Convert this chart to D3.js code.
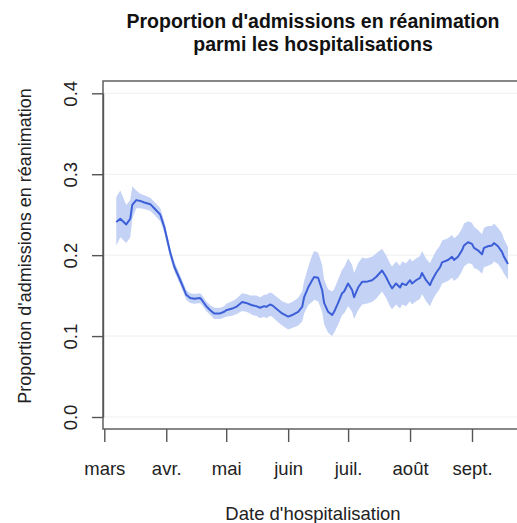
<!DOCTYPE html>
<html>
<head>
<meta charset="utf-8">
<script src="https://cdn.jsdelivr.net/npm/d3@7"></script>
<style>
  html, body { margin: 0; padding: 0; background: #fff; }
  svg { display: block; font-family: "Liberation Sans", Arial, Helvetica, sans-serif; }
</style>
</head>
<body>
<svg id="chart" width="517" height="523"></svg>
<script>
// Daily dates of the smoothed ICU-admission share
const dates = [
  "2020-03-07","2020-03-09","2020-03-12","2020-03-14","2020-03-15","2020-03-17","2020-03-19","2020-03-21",
  "2020-03-24","2020-03-26","2020-03-29","2020-03-31","2020-04-03","2020-04-05","2020-04-08","2020-04-10",
  "2020-04-11","2020-04-13","2020-04-15","2020-04-18","2020-04-19","2020-04-21","2020-04-23","2020-04-25",
  "2020-04-28","2020-04-30","2020-05-01","2020-05-04","2020-05-06","2020-05-09","2020-05-11","2020-05-13",
  "2020-05-14","2020-05-16","2020-05-18","2020-05-20","2020-05-21","2020-05-23","2020-05-24","2020-05-27",
  "2020-05-29","2020-06-01","2020-06-03","2020-06-06","2020-06-08","2020-06-09","2020-06-11","2020-06-13",
  "2020-06-14","2020-06-16","2020-06-18","2020-06-19","2020-06-21","2020-06-23","2020-06-24","2020-06-26",
  "2020-06-28","2020-06-29","2020-07-01","2020-07-03","2020-07-04","2020-07-06","2020-07-08","2020-07-10",
  "2020-07-13","2020-07-15","2020-07-18","2020-07-20","2020-07-22","2020-07-23","2020-07-25","2020-07-27",
  "2020-07-28","2020-07-30","2020-08-01","2020-08-02","2020-08-04","2020-08-06","2020-08-07","2020-08-09",
  "2020-08-11","2020-08-12","2020-08-14","2020-08-16","2020-08-17","2020-08-20","2020-08-22","2020-08-23",
  "2020-08-25","2020-08-27","2020-08-28","2020-08-30","2020-09-01","2020-09-02","2020-09-04","2020-09-06",
  "2020-09-07","2020-09-09","2020-09-11","2020-09-12","2020-09-14","2020-09-16","2020-09-17","2020-09-19"
];

// Estimated proportion
const proportion = [
  .241,.245,.238,.245,.262,.268,.267,.265,
  .263,.258,.250,.235,.203,.186,.169,.157,
  .151,.147,.146,.147,.144,.137,.132,.128,
  .128,.130,.132,.134,.136,.142,.141,.139,
  .138,.137,.135,.137,.136,.139,.138,.132,
  .128,.124,.126,.130,.136,.148,.160,.169,
  .173,.172,.157,.141,.130,.126,.130,.141,
  .153,.155,.165,.157,.148,.160,.167,.167,
  .169,.173,.181,.173,.163,.159,.165,.160,
  .165,.163,.169,.165,.169,.172,.178,.169,
  .163,.169,.178,.185,.191,.194,.198,.194,
  .198,.206,.212,.216,.214,.209,.206,.201,
  .209,.211,.212,.215,.211,.204,.198,.189
];

// Lower bound of the confidence band
const lower = [
  .212,.222,.215,.222,.245,.258,.258,.257,
  .255,.250,.242,.228,.197,.180,.163,.151,
  .145,.141,.140,.141,.138,.131,.126,.121,
  .121,.123,.124,.125,.127,.131,.130,.128,
  .126,.125,.122,.124,.122,.125,.124,.117,
  .113,.108,.110,.113,.118,.128,.138,.142,
  .145,.143,.130,.115,.104,.100,.104,.114,
  .126,.128,.137,.130,.121,.132,.139,.140,
  .142,.146,.155,.147,.137,.133,.139,.134,
  .139,.137,.143,.139,.143,.146,.152,.143,
  .137,.143,.152,.159,.165,.168,.172,.168,
  .172,.180,.186,.190,.189,.184,.182,.177,
  .185,.187,.189,.192,.189,.182,.177,.170
];

// Upper bound of the confidence band
const upper = [
  .272,.280,.262,.268,.285,.280,.276,.274,
  .271,.266,.258,.242,.209,.192,.175,.163,
  .157,.153,.152,.153,.150,.143,.138,.135,
  .135,.137,.140,.143,.146,.153,.152,.150,
  .150,.150,.148,.151,.151,.154,.153,.147,
  .143,.140,.142,.147,.155,.168,.185,.200,
  .205,.203,.188,.170,.158,.155,.158,.170,
  .182,.185,.196,.188,.178,.190,.197,.196,
  .198,.202,.208,.200,.190,.186,.192,.187,
  .192,.190,.196,.192,.196,.199,.205,.196,
  .190,.196,.205,.212,.218,.221,.225,.221,
  .225,.233,.239,.242,.240,.235,.231,.226,
  .234,.236,.236,.239,.234,.227,.220,.210
];

// Axis ticks
const yTicks = [0, 0.1, 0.2, 0.3, 0.4];
const monthStarts = ["2020-03-01","2020-04-01","2020-05-01","2020-06-01","2020-07-01","2020-08-01","2020-09-01"];
const monthLabels = ["mars","avr.","mai","juin","juil.","août","sept."];

const parse = d3.utcParse("%Y-%m-%d");
const rows = dates.map((d, i) => ({ date: parse(d), p: proportion[i], lo: lower[i], hi: upper[i] }));

const svg = d3.select("#chart");

// Plot region (right edge runs past the window)
const plot = { left: 103, right: 527, top: 81, bottom: 429 };

const x = d3.scaleUtc()
  .domain([parse("2020-03-01"), parse("2020-09-01")])
  .range([104.3, 472]);

const y = d3.scaleLinear()
  .domain([0, 0.4])
  .range([417, 93.3]);

// Light horizontal guides
svg.append("g")
  .selectAll("line")
  .data(yTicks)
  .join("line")
  .attr("x1", plot.left)
  .attr("x2", plot.right)
  .attr("y1", d => y(d))
  .attr("y2", d => y(d))
  .attr("stroke", "#efefef")
  .attr("stroke-width", 1);

// Confidence band
const band = d3.area()
  .x(d => x(d.date))
  .y0(d => y(d.lo))
  .y1(d => y(d.hi));

svg.append("path")
  .datum(rows)
  .attr("d", band)
  .attr("fill", "#c4d2f6");

// Central estimate
const line = d3.line()
  .x(d => x(d.date))
  .y(d => y(d.p));

svg.append("path")
  .datum(rows)
  .attr("d", line)
  .attr("fill", "none")
  .attr("stroke", "#3c5fd8")
  .attr("stroke-width", 2)
  .attr("stroke-linejoin", "round");

// Frame around the plot region
svg.append("rect")
  .attr("x", plot.left)
  .attr("y", plot.top)
  .attr("width", plot.right - plot.left)
  .attr("height", plot.bottom - plot.top)
  .attr("fill", "none")
  .attr("stroke", "#555")
  .attr("stroke-width", 1.4);

// Left axis
const yAxis = d3.axisLeft(y)
  .tickValues(yTicks)
  .tickFormat(d3.format(".1f"))
  .tickSize(11)
  .tickSizeOuter(0);

const gy = svg.append("g")
  .attr("transform", `translate(${plot.left},0)`)
  .call(yAxis);
gy.select(".domain").attr("stroke", "#555").attr("stroke-width", 1.4);
gy.selectAll(".tick line").attr("stroke", "#555").attr("stroke-width", 1.4);
gy.selectAll(".tick text")
  .attr("x", null)
  .attr("dy", null)
  .attr("text-anchor", "middle")
  .attr("transform", "translate(-26,0) rotate(-90)")
  .attr("fill", "#222")
  .style("font-size", "18.5px")
  .style("font-family", "'Liberation Sans', Arial, sans-serif");

// Bottom axis
const xAxis = d3.axisBottom(x)
  .tickValues(monthStarts.map(parse))
  .tickFormat((d, i) => monthLabels[i])
  .tickSize(13)
  .tickSizeOuter(0);

const gx = svg.append("g")
  .attr("transform", `translate(0,${plot.bottom})`)
  .call(xAxis);
gx.select(".domain").remove();
gx.selectAll(".tick line").attr("stroke", "#555").attr("stroke-width", 1.4);
gx.selectAll(".tick text")
  .attr("y", 46)
  .attr("dy", null)
  .attr("fill", "#222")
  .style("font-size", "18.5px")
  .style("font-family", "'Liberation Sans', Arial, sans-serif");

// Titles
const title = svg.append("text")
  .attr("text-anchor", "middle")
  .attr("fill", "#111")
  .style("font-size", "19.5px")
  .style("font-weight", "bold");
title.append("tspan").attr("x", 313).attr("y", 28).text("Proportion d'admissions en réanimation");
title.append("tspan").attr("x", 313).attr("y", 51).text("parmi les hospitalisations");

svg.append("text")
  .attr("x", 313)
  .attr("y", 520)
  .attr("text-anchor", "middle")
  .attr("fill", "#222")
  .style("font-size", "18.5px")
  .text("Date d'hospitalisation");

svg.append("text")
  .attr("transform", "translate(31,246) rotate(-90)")
  .attr("text-anchor", "middle")
  .attr("fill", "#222")
  .style("font-size", "18px")
  .text("Proportion d'admissions en réanimation");
</script>
</body>
</html>
